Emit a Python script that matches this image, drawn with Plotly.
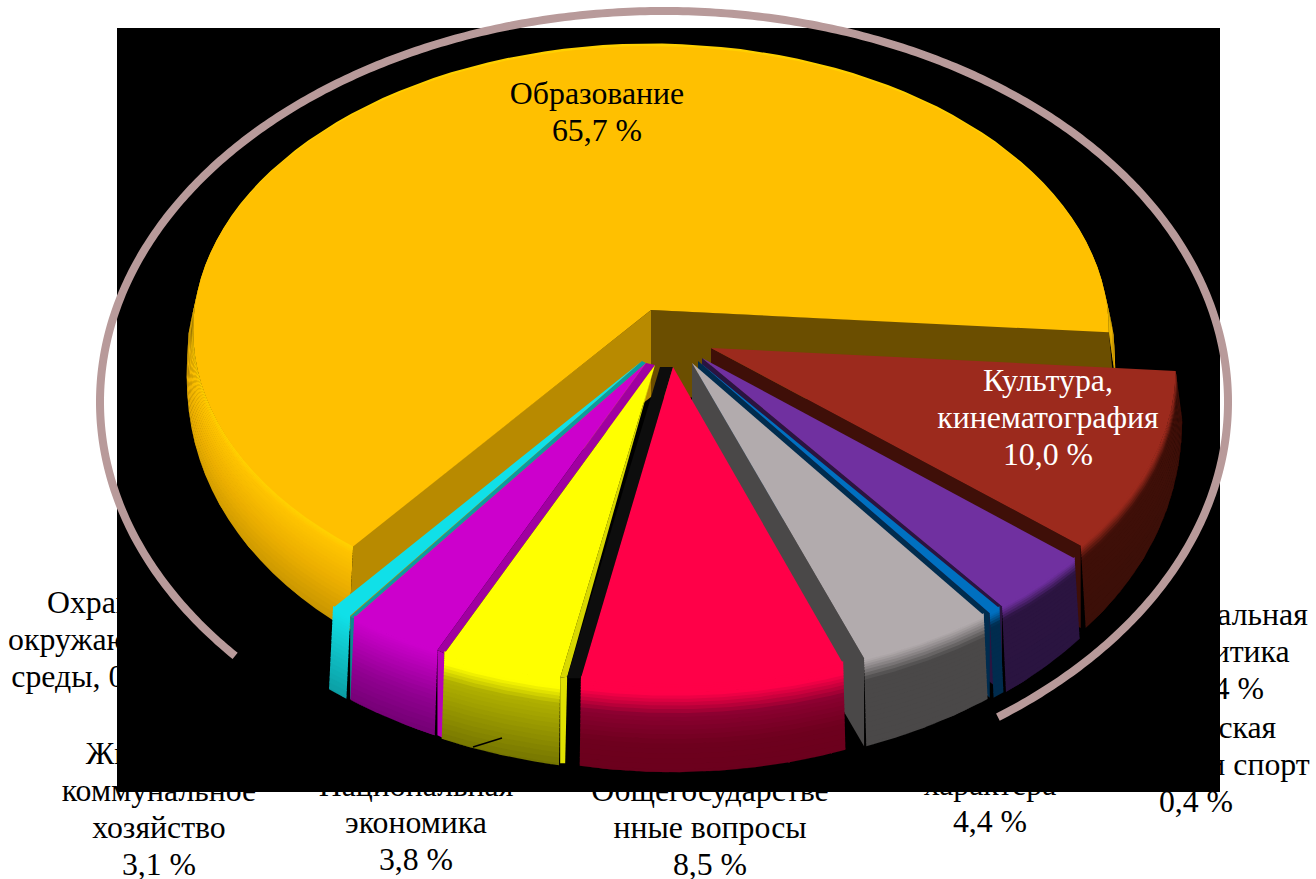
import numpy as np
import plotly.graph_objects as go

# ---- data -------------------------------------------------------------
NAMES = ["Образование", "Культура,<br>кинематография", "Социальная<br>политика",
         "Физическая<br>культура и спорт", "Межбюджетные<br>трансферты<br>общего<br>характера",
         "Общегосударстве<br>нные вопросы", "Национальная<br>экономика",
         "Жилищно-<br>коммунальное<br>хозяйство", "Охрана<br>окружающей<br>среды,"]
VALUES = [65.7, 10.0, 3.4, 0.4, 4.4, 8.5, 3.8, 3.1, 0.7]

# ---- style / layout ----------------------------------------------------
W, H = 1316, 879
FACE = ["#FFC000", "#9C2A1D", "#7030A0", "#0070C0", "#B2ABAD", "#FF0048", "#FFFF00", "#CC00CC", "#10E0E8"]
SIDE_STOPS = [
    [(0, "#FFD000"), (0.05, "#FFC400"), (0.4, "#EDB000"), (1, "#B88A00")],
    [(0, "#9C2A1D"), (0.12, "#3F0F08"), (1, "#3A0F08")],
    [(0, "#7030A0"), (0.12, "#2B1440"), (1, "#2A1440")],
    [(0, "#0070C0"), (0.12, "#002C4E"), (1, "#002C4E")],
    [(0, "#B2ABAD"), (0.2, "#4A4848"), (1, "#4A4848")],
    [(0, "#FF0048"), (0.08, "#FF0048"), (0.3, "#8A0030"), (0.6, "#6E001E"), (1, "#6A001C")],
    [(0, "#FFFF00"), (0.08, "#FFFF00"), (0.25, "#B0B000"), (1, "#6A6A00")],
    [(0, "#CC00CC"), (0.1, "#C000C0"), (0.5, "#900090"), (1, "#680068")],
    [(0, "#10E0E8"), (0.3, "#10C8CE"), (1, "#0A9096")],
]
CUT = ["#B88A00", "#3F0F08", "#2A1440", "#002C4E", "#4A4848"]
APEX = [(651, 310), (711, 348), (702, 358), (698, 361), (692, 363), (673, 367), (655, 365), (646, 363), (642, 361)]
SX = [0.997, 1.012, 1.02, 1.025, 1.025, 1.014, 1.044, 1.034, 1.034]
SY = [1.0, 1.025, 1.04, 1.035, 1.035, 1.04, 1.045, 1.04, 1.044]
DEPTH_K = [1.03, 1.08, 1.05, 1.03, 1.02, 1.0, 1.0, 1.0, 1.0]
LABEL_POS = [(597, 115), (1048, 420), (1227, 654), (1196, 767), (990, 750), (710, 830),
             (416, 825), (159, 811.5), (97, 642)]
LABEL_COL = ["#000000", "#FFFFFF"] + ["#000000"] * 7
DRAW_ORDER = [1, 2, 3, 4, 8, 7, 6, 5]
START = -4.5
R, S, P = 458.0, 283.0, 0.072
XSPREAD = 6.5
DMAX = 95.0
BANDS = 24
FONT = "Liberation Serif"
FS = 31.8
LINE_H = 37


def arc(i, t0, t1, n=90):
    t = np.linspace(t0, t1, n)
    r = np.radians(t)
    w = 1 + P * np.sin(r)
    cx, cy = APEX[i]
    return cx + SX[i] * R * np.cos(r) / w, cy - SY[i] * S * np.sin(r) / w, r


def depth(i, r):
    return DEPTH_K[i] * (28 + 60 * np.sqrt(np.clip(-np.sin(r), 0, 1)))


def ramp(stops, f):
    fs = [s[0] for s in stops]
    rgb = [[int(s[1][k:k + 2], 16) for k in (1, 3, 5)] for s in stops]
    vals = [np.interp(f, fs, [c[j] for c in rgb]) for j in range(3)]
    return "rgb(%d,%d,%d)" % tuple(round(v) for v in vals)


def poly(x, y, color):
    return go.Scatter(x=list(x), y=list(y), mode="lines", fill="toself", fillcolor=color,
                      line=dict(width=0, color=color), hoverinfo="skip", showlegend=False)


fig = go.Figure()


def put_label(i):
    val = f"{VALUES[i]:.1f}".replace(".", ",") + " %"
    lines = NAMES[i].split("<br>")
    if i == 8:
        lines[-1] += " " + val
    else:
        lines.append(val)
    x0, y0 = LABEL_POS[i]
    ys = [y0 + (k - (len(lines) - 1) / 2) * LINE_H for k in range(len(lines))]
    fig.add_trace(go.Scatter(x=[x0] * len(lines), y=ys, mode="text", text=lines,
                             textposition="middle center", hoverinfo="skip", showlegend=False,
                             textfont=dict(family=FONT, size=FS, color=LABEL_COL[i])))


# outer labels sit behind the black panel
for i in range(2, len(VALUES)):
    put_label(i)

# black panel
fig.add_trace(poly([117, 1220, 1220, 117], [28, 28, 792, 792], "#000000"))

# ring
rt = np.radians(np.linspace(220.5, -53.7, 500))
fig.add_trace(go.Scatter(x=664 + 564 * np.cos(rt), y=402 - 391 * np.sin(rt), mode="lines",
                         line=dict(color="#B89A9A", width=8, simplify=False), hoverinfo="skip", showlegend=False))

# angles come from the values
ang = {0: (START, START + VALUES[0] * 3.6)}
cur = START
for i in range(1, len(VALUES)):
    ang[i] = (cur, cur - VALUES[i] * 3.6)
    cur -= VALUES[i] * 3.6


def side(i):
    x, y, r = arc(i, *ang[i])
    d = depth(i, r)
    edges = (np.arange(BANDS + 1) / BANDS) ** 1.4 * DMAX
    for k in range(BANDS - 1, -1, -1):
        a = np.minimum(edges[k], d)
        b = np.minimum(edges[k + 1] + 1.0, d)
        xa = x + XSPREAD * np.cos(r) * a / d
        xb = x + XSPREAD * np.cos(r) * b / d
        # the top band tucks under the slice face so no dark seam shows
        lift = 2.5 * np.abs(np.sin(r)) if k == 0 else 0.0
        col = ramp(SIDE_STOPS[i], edges[k] / DMAX)
        fig.add_trace(poly(np.r_[xa, xb[::-1]], np.r_[y + a - lift, (y + b)[::-1]], col))


def face(i):
    x, y, _ = arc(i, *ang[i])
    cx, cy = APEX[i]
    fig.add_trace(poly(np.r_[cx, x, cx], np.r_[cy, y, cy], FACE[i]))


def point(i, t):
    x, y, r = arc(i, t, t, 1)
    return x[0], y[0], depth(i, r)[0]


# main slice
cx, cy = APEX[0]
side(0)
x0, y0, d0 = point(0, ang[0][0])
x1, y1, d1 = point(0, ang[0][1])
fig.add_trace(poly([cx, x0, x0 + XSPREAD, cx], [cy, y0 - 1, y0 + 70, cy + 87], "#6B4E00"))
fig.add_trace(poly([cx, x1, x1 - 4, cx], [cy, y1 - 1, y1 + d1, cy + 87], CUT[0]))
face(0)

# exploded slices, back to front
for i in DRAW_ORDER:
    t0, t1 = ang[i]
    ax, ay = APEX[i]
    xs, ys, ds = point(i, t0)
    xe, ye, de = point(i, t1)
    if i in (1, 2, 3, 4):      # cut face below the far edge
        fig.add_trace(poly([ax, xe, xe, ax], [ay, ye, ye + de, ay + de], CUT[i]))
    side(i)
    if i in (7, 8):            # edge strip reaching the next slice
        nx, ny, nd = point(i - 1, ang[i - 1][1])
        nax, nay = APEX[i - 1]
        strip = {7: ("#A000A0", "#B800B8"), 8: ("#0A9CA0", "#0A8A90")}[i]
        fig.add_trace(poly([xs, nx, nx, xs], [ys, ny, ny + nd, ys + ds], strip[1]))
        fig.add_trace(poly([ax, xs, nx, nax], [ay, ys, ny, nay], strip[0]))
    if i == 6:
        fig.add_trace(poly([xs, xs + 7, xs + 5, xs], [ys, ys - 1, ys + ds - 2, ys + ds - 2], "#E0E000"))
        fig.add_trace(poly([ax, xs, xs + 7, ax], [ay, ys, ys - 1, ay], "#D8D800"))
    if i == 5:                 # dark cut along the left edge
        fig.add_trace(poly([ax, xe, xe - 14, ax - 13], [ay, ye, ye, ay], "#0D0D0D"))
    face(i)

# leader line
fig.add_trace(go.Scatter(x=[473, 502], y=[747, 738], mode="lines", line=dict(color="#000000", width=1.5),
                         hoverinfo="skip", showlegend=False))

# labels printed on the slices
for i in (0, 1):
    put_label(i)

fig.update_layout(width=W, height=H, margin=dict(l=0, r=0, t=0, b=0), paper_bgcolor="#FFFFFF",
                  plot_bgcolor="#FFFFFF", showlegend=False,
                  xaxis=dict(range=[0, W], visible=False, fixedrange=True),
                  yaxis=dict(range=[H, 0], visible=False, fixedrange=True))
fig.write_html("out.html", post_script="document.body.style.margin='0';document.body.style.overflow='hidden';",
               config={"displayModeBar": False})
